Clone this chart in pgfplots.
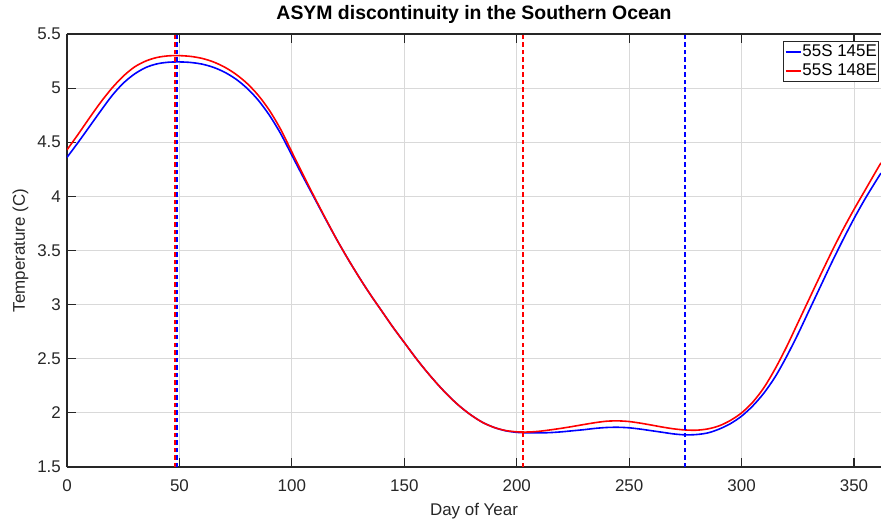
\documentclass[border=0pt]{standalone}
\usepackage{pgfplots}
\pgfplotsset{compat=1.18}
\usepackage{pgfplotstable}
\usepackage{fontspec}
\setmainfont{Liberation Sans}

% 55S 145E
\pgfplotstableread{
day t
0 4.36
5 4.50
10 4.645
15 4.79
20 4.93
25 5.045
30 5.13
35 5.19
40 5.224
45 5.239
50 5.242
55 5.237
60 5.222
65 5.193
70 5.148
75 5.085
80 5.00
85 4.89
90 4.75
95 4.58
100 4.38
105 4.18
110 3.985
115 3.79
120 3.60
125 3.42
130 3.25
135 3.09
140 2.94
145 2.79
150 2.65
155 2.51
160 2.38
165 2.26
170 2.15
175 2.055
180 1.975
185 1.91
190 1.865
195 1.835
200 1.82
205 1.815
210 1.815
215 1.818
220 1.825
225 1.835
230 1.845
235 1.857
240 1.865
245 1.867
250 1.862
255 1.85
260 1.835
265 1.82
270 1.805
275 1.797
280 1.80
285 1.815
290 1.85
295 1.90
300 1.97
305 2.065
310 2.185
315 2.335
320 2.52
325 2.725
330 2.945
335 3.165
340 3.385
345 3.595
350 3.795
355 3.98
360 4.15
362 4.215
}\sitea

% 55S 148E
\pgfplotstableread{
day t
0 4.43
5 4.575
10 4.725
15 4.87
20 5.00
25 5.11
30 5.195
35 5.25
40 5.283
45 5.298
50 5.30
55 5.293
60 5.275
65 5.243
70 5.195
75 5.13
80 5.045
85 4.935
90 4.795
95 4.62
100 4.41
105 4.20
110 3.995
115 3.795
120 3.60
125 3.42
130 3.25
135 3.09
140 2.94
145 2.79
150 2.65
155 2.51
160 2.38
165 2.26
170 2.15
175 2.055
180 1.975
185 1.91
190 1.865
195 1.837
200 1.825
205 1.823
210 1.83
215 1.843
220 1.858
225 1.875
230 1.893
235 1.91
240 1.923
245 1.926
250 1.92
255 1.905
260 1.887
265 1.868
270 1.852
275 1.842
280 1.84
285 1.852
290 1.88
295 1.93
300 2.00
305 2.10
310 2.235
315 2.41
320 2.61
325 2.83
330 3.05
335 3.27
340 3.485
345 3.69
350 3.88
355 4.06
360 4.24
362 4.31
}\siteb

\newcommand\axfont{\fontsize{17}{20}\selectfont}

\begin{document}
\begin{tikzpicture}
\begin{axis}[
    name=ax,
    scale only axis,
    width=814bp, height=433bp,
    xmin=0, xmax=362,
    ymin=1.5, ymax=5.5,
    xtick={0,50,...,350},
    ytick={1.5,2,...,5.5},
    axis x line*=box,
    axis y line*=left,
    xtick pos=both, xticklabel pos=lower,
    ytick pos=left,
    tick align=inside,
    major tick length=9bp,
    every tick/.style={black!85, line width=1.2bp},
    axis line style={black!85, line width=1.2bp},
    grid=major,
    major grid style={black!15, line width=1bp},
    /pgf/number format/assume math mode=true,
    tick label style={font=\axfont, text=black!85},
    xticklabel style={anchor=base, inner sep=0pt, yshift=-24bp},
    yticklabel style={anchor=east, inner sep=0pt, xshift=-6bp},
    xlabel={Day of Year},
    ylabel={Temperature (C)},
    label style={font=\axfont, text=black!85},
    xlabel style={at={(axis description cs:0.5,-0.1109)}, anchor=base},
    ylabel style={at={(axis description cs:-0.0516,0.5)}, anchor=base, rotate=0},
    title={ASYM discontinuity in the Southern Ocean},
    title style={at={(axis description cs:0.5,1.0208)}, anchor=base,
        font=\bfseries\fontsize{19.5}{22}\selectfont},
    legend style={at={(axis description cs:0.998,0.9838)}, anchor=north east,
        draw=black!85, line width=1.1bp, fill=white,
        inner xsep=1bp, inner ysep=1bp,
        font=\axfont,
        nodes={inner sep=1bp, text height=13bp, text depth=4bp},
        row sep=0pt},
    legend cell align=left,
    legend image code/.code={\draw[#1, line width=1.6bp] (0bp,0bp) -- (15bp,0bp);},
    vline/.style={draw=#1, line width=2bp, dash pattern=on 4.5bp off 3bp, forget plot},
]
\addplot[blue, line width=1.6bp, smooth] table[x=day, y=t] {\sitea};
\addlegendentry{55S 145E}
\addplot[red, line width=1.6bp, smooth] table[x=day, y=t] {\siteb};
\addlegendentry{55S 148E}

\addplot[vline=red] coordinates {(48,1.5) (48,5.5)};
\addplot[vline=blue] coordinates {(49,1.5) (49,5.5)};
\addplot[vline=red] coordinates {(203,1.5) (203,5.5)};
\addplot[vline=blue] coordinates {(275,1.5) (275,5.5)};
\end{axis}
\pgfresetboundingbox
\path[use as bounding box] ([xshift=-67bp, yshift=-55bp]ax.south west) rectangle ([yshift=34bp]ax.north east);
\end{tikzpicture}
\end{document}
